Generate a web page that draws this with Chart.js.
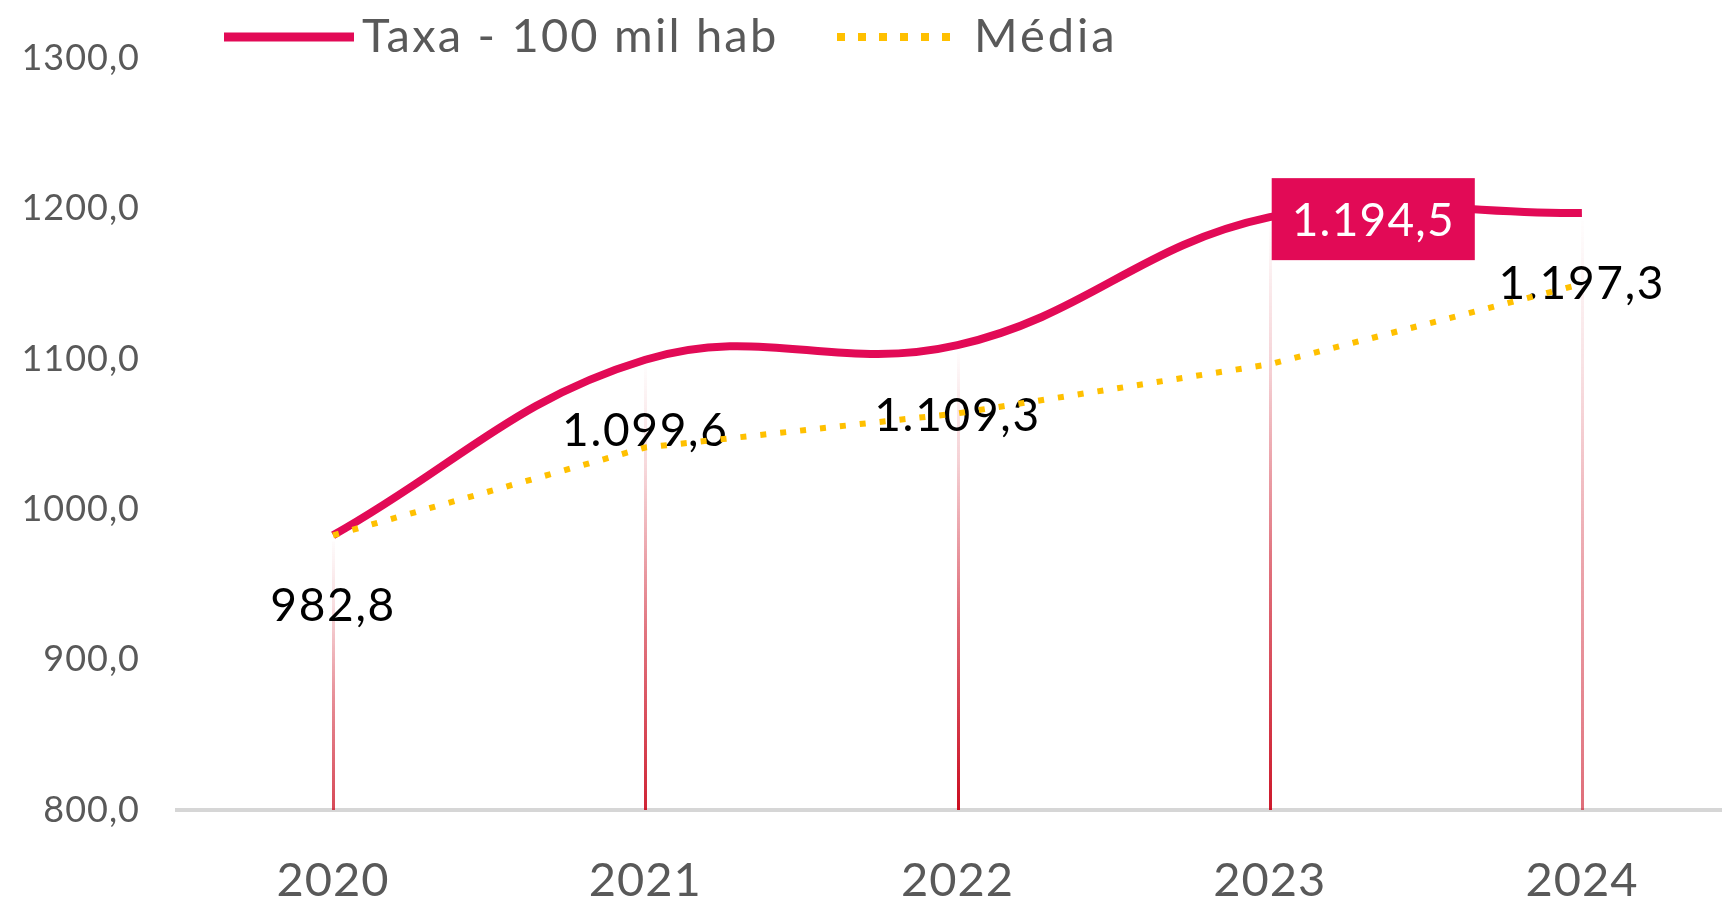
<!DOCTYPE html>
<html><head><meta charset="utf-8">
<script src="https://cdn.jsdelivr.net/npm/chart.js@4.4.1/dist/chart.umd.min.js"></script>
<style>
html,body{margin:0;padding:0;background:#fff;overflow:hidden;}
#wrap{position:relative;width:1740px;height:900px;}
</style></head><body>
<div id="wrap"><canvas id="c"></canvas></div>
<script>
// ---- data ----
const categories = ['2020', '2021', '2022', '2023', '2024'];
const taxaValues = [982.8, 1099.6, 1109.3, 1194.5, 1197.3];
const mediaValues = [982.8, 1041.2, 1063.9, 1096.6, 1150.0];
const yTicks = [800, 900, 1000, 1100, 1200, 1300];
const seriesNames = ['Taxa - 100 mil hab', 'Média'];
const highlightIndex = 3;

// ---- styles ----
const TAXA_COLOR = '#E20A56';
const MEDIA_COLOR = '#FFC000';
const AXIS_TEXT = '#595959';
const FONT = 'Lato, "Open Sans", sans-serif';
const dropAlpha = [0.75, 0.9, 1.0, 0.95, 0.6];

const fmtTick = v => v.toFixed(1).replace('.', ',');
const fmtLabel = v => {
  const parts = v.toFixed(1).split('.');
  return parts[0].replace(/\B(?=(\d{3})+(?!\d))/g, '.') + ',' + parts[1];
};

const spacing = {
  id: 'spacing',
  beforeDraw(chart) { chart.ctx.letterSpacing = '1px'; }
};

const dropLines = {
  id: 'dropLines',
  beforeDatasetsDraw(chart) {
    const ctx = chart.ctx;
    const meta = chart.getDatasetMeta(0);
    const bottom = chart.chartArea.bottom;
    ctx.save();
    meta.data.forEach((pt, i) => {
      const a = dropAlpha[i];
      const g = ctx.createLinearGradient(0, pt.y, 0, bottom);
      g.addColorStop(0, 'rgba(200,0,20,0)');
      g.addColorStop(0.25, 'rgba(200,0,20,' + (0.18 * a) + ')');
      g.addColorStop(0.6, 'rgba(200,0,20,' + (0.6 * a) + ')');
      g.addColorStop(1, 'rgba(200,0,20,' + (0.95 * a) + ')');
      ctx.strokeStyle = g;
      ctx.lineWidth = 3;
      ctx.beginPath();
      ctx.moveTo(Math.round(pt.x) + 0.5, pt.y + 6);
      ctx.lineTo(Math.round(pt.x) + 0.5, bottom);
      ctx.stroke();
    });
    ctx.restore();
  }
};

const valueLabels = {
  id: 'valueLabels',
  beforeDatasetsDraw(chart) {
    const ctx = chart.ctx;
    const meta = chart.getDatasetMeta(0);
    ctx.save();
    ctx.font = '46px ' + FONT;
    ctx.letterSpacing = '1.7px';
    ctx.fillStyle = '#000';
    ctx.textAlign = 'center';
    ctx.textBaseline = 'middle';
    meta.data.forEach((pt, i) => {
      if (i === highlightIndex) return;
      ctx.fillText(fmtLabel(taxaValues[i]), pt.x, pt.y + 71);
    });
    ctx.restore();
  },
  afterDatasetsDraw(chart) {
    const ctx = chart.ctx;
    const pt = chart.getDatasetMeta(0).data[highlightIndex];
    const txt = fmtLabel(taxaValues[highlightIndex]);
    ctx.save();
    ctx.font = '46px ' + FONT;
    ctx.letterSpacing = '1.2px';
    const w = ctx.measureText(txt).width + 40;
    const h = 82;
    const x0 = pt.x + 2;
    const cy = pt.y + 2;
    ctx.fillStyle = TAXA_COLOR;
    ctx.fillRect(x0, cy - h / 2, w, h);
    ctx.fillStyle = '#fff';
    ctx.textAlign = 'center';
    ctx.textBaseline = 'middle';
    ctx.fillText(txt, x0 + w / 2, cy + 2);
    ctx.restore();
  }
};

const customLegend = {
  id: 'customLegend',
  afterDraw(chart) {
    const ctx = chart.ctx;
    const y = 37;
    ctx.save();
    ctx.font = '47px ' + FONT;
    ctx.letterSpacing = '2.2px';
    ctx.fillStyle = AXIS_TEXT;
    ctx.textBaseline = 'middle';
    ctx.textAlign = 'left';
    ctx.strokeStyle = TAXA_COLOR;
    ctx.lineWidth = 9;
    ctx.beginPath(); ctx.moveTo(224, y); ctx.lineTo(354, y); ctx.stroke();
    ctx.fillText(seriesNames[0], 362, y);
    ctx.strokeStyle = MEDIA_COLOR;
    ctx.lineWidth = 8;
    ctx.setLineDash([8, 13]);
    ctx.beginPath(); ctx.moveTo(837, y); ctx.lineTo(951, y); ctx.stroke();
    ctx.setLineDash([]);
    ctx.letterSpacing = '3px';
    ctx.fillText(seriesNames[1], 974, y);
    ctx.restore();
  }
};

new Chart(document.getElementById('c'), {
  type: 'line',
  data: {
    labels: categories,
    datasets: [
      {
        label: seriesNames[0],
        data: taxaValues,
        borderColor: TAXA_COLOR,
        borderWidth: 8,
        tension: 0.4,
        pointRadius: 0,
        fill: false,
        order: 1
      },
      {
        label: seriesNames[1],
        data: mediaValues,
        borderColor: MEDIA_COLOR,
        borderWidth: 6,
        borderDash: [6, 14],
        tension: 0,
        pointRadius: 0,
        fill: false,
        order: 0
      }
    ]
  },
  options: {
    responsive: true,
    maintainAspectRatio: false,
    animation: false,
    events: [],
    layout: { padding: { top: 57.5, right: 2, left: 0, bottom: 0 } },
    plugins: { legend: { display: false }, tooltip: { enabled: false } },
    scales: {
      x: {
        offset: true,
        grid: { display: false, drawTicks: false },
        border: { display: true, color: '#D6D6D6', width: 4 },
        ticks: { color: AXIS_TEXT, font: { family: FONT, size: 47 }, padding: 43, maxRotation: 0 },
        afterFit: s => { s.height = 90; }
      },
      y: {
        min: 800,
        max: 1300,
        grid: { display: false, drawTicks: false },
        border: { display: false },
        afterBuildTicks: s => { s.ticks = yTicks.map(v => ({ value: v })); },
        ticks: { color: AXIS_TEXT, font: { family: FONT, size: 36 }, padding: 37, callback: v => fmtTick(v) },
        afterFit: s => { s.width = 177; }
      }
    }
  },
  plugins: [spacing, dropLines, valueLabels, customLegend]
});
</script>
</body></html>
